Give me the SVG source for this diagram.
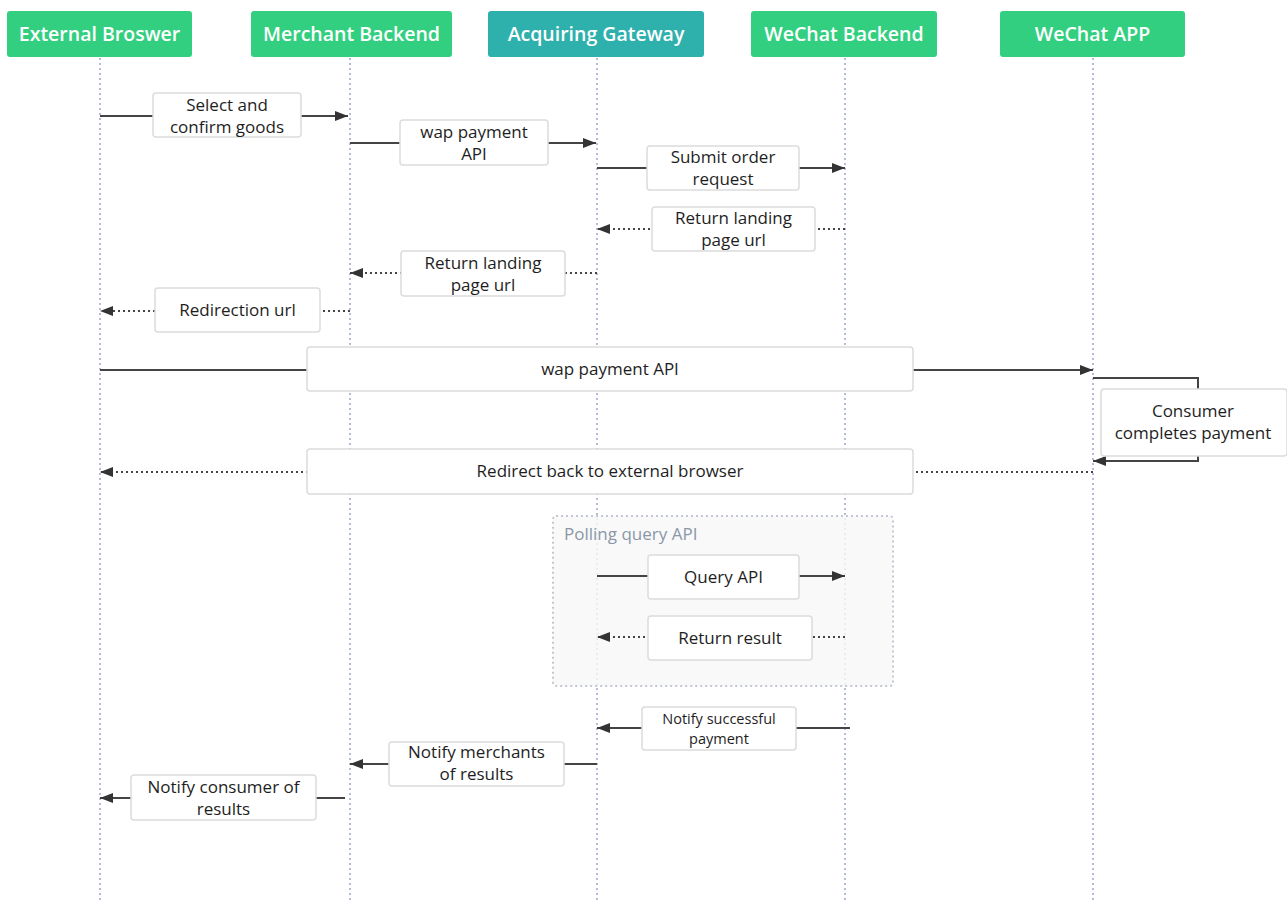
<svg xmlns="http://www.w3.org/2000/svg" width="1287" height="901" viewBox="0 0 1287 901">
<style>
.hdr{fill:#33cf80;}
.hdr2{fill:#2eb0ac;}
.ht{font-family:"Open Sans","Noto Sans",sans-serif;font-size:19.5px;font-weight:600;fill:#fff;text-anchor:middle;}
.life{stroke:#b4bcd8;stroke-width:2;stroke-dasharray:2 3;fill:none;}
.msg{stroke:#444;stroke-width:2;fill:none;}
.ret{stroke:#444;stroke-width:2;stroke-dasharray:2 3;fill:none;}
.lb{fill:#fff;stroke:#dcdcdc;stroke-width:1.5;}
.lt{font-family:"Open Sans","Noto Sans",sans-serif;font-size:17px;font-weight:500;fill:#1e1e1e;text-anchor:middle;}
.st{font-family:"Open Sans","Noto Sans",sans-serif;font-size:14.5px;font-weight:500;fill:#1e1e1e;text-anchor:middle;}
</style>
<defs>
<marker id="ah" viewBox="0 0 13 10" refX="13" refY="5" markerWidth="13" markerHeight="10" markerUnits="userSpaceOnUse" orient="auto">
<path d="M0,0 L13,5 L0,10 Z" fill="#333"/>
</marker>
</defs>
<rect width="1287" height="901" fill="#fff"/>
<g id="lifelines">
<line class="life" x1="100" y1="58" x2="100" y2="901"/>
<line class="life" x1="350" y1="58" x2="350" y2="901"/>
<line class="life" x1="597" y1="58" x2="597" y2="901"/>
<line class="life" x1="845" y1="58" x2="845" y2="901"/>
<line class="life" x1="1093" y1="58" x2="1093" y2="901"/>
</g>
<g id="polling-group">
<rect x="553" y="516" width="340" height="170" rx="3" fill="#f7f7f7" fill-opacity="0.8" stroke="#b0b8c4" stroke-width="1.5" stroke-dasharray="2 3"/>
<text x="564" y="540" font-family="Open Sans, Noto Sans, sans-serif" font-size="17" font-weight="500" fill="#8a97a8">Polling query API</text>
</g>
<g id="n-external-browser"><rect class="hdr" x="7" y="11" width="185" height="46" rx="3"/><text class="ht" x="99.5" y="41">External Broswer</text></g>
<g id="n-merchant-backend"><rect class="hdr" x="251" y="11" width="201" height="46" rx="3"/><text class="ht" x="351.5" y="41">Merchant Backend</text></g>
<g id="n-acquiring-gateway"><rect class="hdr2" x="488" y="11" width="216" height="46" rx="3"/><text class="ht" x="596" y="41">Acquiring Gateway</text></g>
<g id="n-wechat-backend"><rect class="hdr" x="751" y="11" width="186" height="46" rx="3"/><text class="ht" x="844" y="41">WeChat Backend</text></g>
<g id="n-wechat-app"><rect class="hdr" x="1000" y="11" width="185" height="46" rx="3"/><text class="ht" x="1092.5" y="41">WeChat APP</text></g>
<g id="connectors">
<line class="msg" x1="100" y1="116" x2="348" y2="116" marker-end="url(#ah)"/>
<line class="msg" x1="350" y1="143" x2="596" y2="143" marker-end="url(#ah)"/>
<line class="msg" x1="597" y1="168" x2="845" y2="168" marker-end="url(#ah)"/>
<line class="ret" x1="845" y1="229" x2="597" y2="229" marker-end="url(#ah)"/>
<line class="ret" x1="597" y1="273" x2="350" y2="273" marker-end="url(#ah)"/>
<line class="ret" x1="350" y1="311" x2="100" y2="311" marker-end="url(#ah)"/>
<line class="msg" x1="100" y1="370" x2="1093" y2="370" marker-end="url(#ah)"/>
<polyline class="msg" points="1093,378 1198,378 1198,461 1093,461" marker-end="url(#ah)"/>
<line class="ret" x1="1093" y1="472" x2="100" y2="472" marker-end="url(#ah)"/>
<line class="msg" x1="597" y1="576" x2="845" y2="576" marker-end="url(#ah)"/>
<line class="ret" x1="845" y1="637" x2="597" y2="637" marker-end="url(#ah)"/>
<line class="msg" x1="850" y1="728" x2="597" y2="728" marker-end="url(#ah)"/>
<line class="msg" x1="597" y1="764" x2="350" y2="764" marker-end="url(#ah)"/>
<line class="msg" x1="345" y1="798" x2="100" y2="798" marker-end="url(#ah)"/>
</g>
<g id="labels">
<g id="l1"><rect class="lb" x="153" y="93" width="148" height="44" rx="3"/><text class="lt" x="227" y="111">Select and</text><text class="lt" x="227" y="133">confirm goods</text></g>
<g id="l2"><rect class="lb" x="400" y="120" width="148" height="45" rx="3"/><text class="lt" x="474" y="138">wap payment</text><text class="lt" x="474" y="160">API</text></g>
<g id="l3"><rect class="lb" x="647" y="146" width="152" height="44" rx="3"/><text class="lt" x="723" y="163">Submit order</text><text class="lt" x="723" y="185">request</text></g>
<g id="l4"><rect class="lb" x="652" y="207" width="163" height="44" rx="3"/><text class="lt" x="733.5" y="224">Return landing</text><text class="lt" x="733.5" y="246">page url</text></g>
<g id="l5"><rect class="lb" x="401" y="251" width="164" height="45" rx="3"/><text class="lt" x="483" y="269">Return landing</text><text class="lt" x="483" y="291">page url</text></g>
<g id="l6"><rect class="lb" x="155" y="288" width="165" height="44" rx="3"/><text class="lt" x="237.5" y="316">Redirection url</text></g>
<g id="l7"><rect class="lb" x="307" y="347" width="606" height="44" rx="3"/><text class="lt" x="610" y="375">wap payment API</text></g>
<g id="l8"><rect class="lb" x="1101" y="389" width="186" height="67" rx="3"/><text class="lt" x="1193" y="417">Consumer</text><text class="lt" x="1193" y="439">completes payment</text></g>
<g id="l9"><rect class="lb" x="307" y="449" width="606" height="45" rx="3"/><text class="lt" x="610" y="477">Redirect back to external browser</text></g>
<g id="l10"><rect class="lb" x="648" y="555" width="151" height="44" rx="3"/><text class="lt" x="723.5" y="583">Query API</text></g>
<g id="l11"><rect class="lb" x="648" y="616" width="164" height="44" rx="3"/><text class="lt" x="730" y="644">Return result</text></g>
<g id="l12"><rect class="lb" x="642" y="707" width="154" height="43" rx="3"/><text class="st" x="719" y="724">Notify successful</text><text class="st" x="719" y="744">payment</text></g>
<g id="l13"><rect class="lb" x="389" y="742" width="175" height="44" rx="3"/><text class="lt" x="476.5" y="758">Notify merchants</text><text class="lt" x="476.5" y="780">of results</text></g>
<g id="l14"><rect class="lb" x="131" y="775" width="185" height="45" rx="3"/><text class="lt" x="223.5" y="793">Notify consumer of</text><text class="lt" x="223.5" y="815">results</text></g>
</g>
</svg>
